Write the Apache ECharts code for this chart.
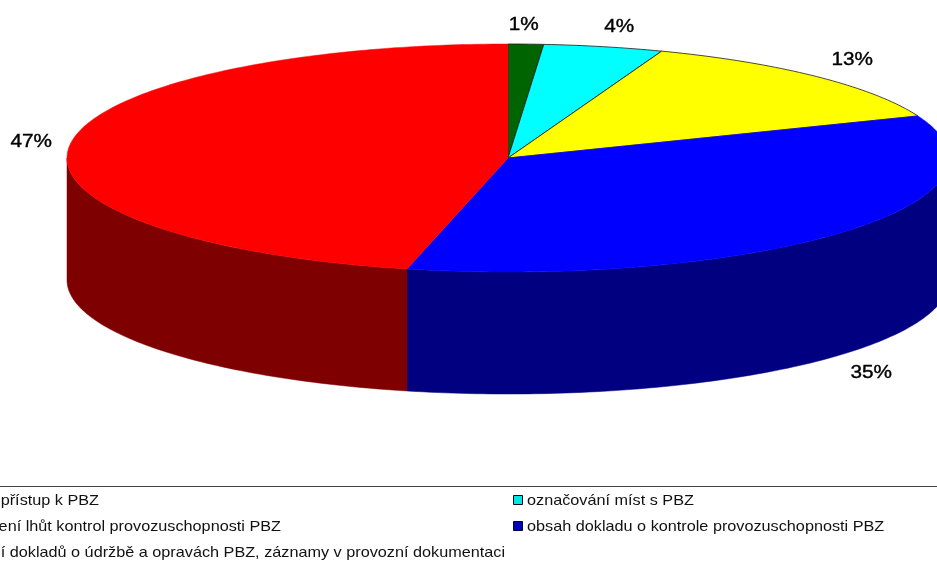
<!DOCTYPE html>
<html><head><meta charset="utf-8">
<style>html,body{margin:0;padding:0;background:#fff}#c{width:937px;height:562px}</style>
<script src="https://cdn.jsdelivr.net/npm/echarts@6/dist/echarts.min.js"></script>
</head><body><div id="c"></div>
<script>
const categories = ['přístup k PBZ','označování míst s PBZ','dodržení lhůt kontrol provozuschopnosti PBZ','obsah dokladu o kontrole provozuschopnosti PBZ','vedení dokladů o údržbě a opravách PBZ, záznamy v provozní dokumentaci'];
const shares = [1.3, 4.4, 13.4, 34.9, 46.6];
const topColors = ['#006400','#00ffff','#ffff00','#0000ff','#ff0000'];
const wallColors = ['#003200','#008080','#808000','#000080','#7f0000'];
const legendLeft = ['přístup k PBZ','ení lhůt kontrol provozuschopnosti PBZ','ní dokladů o údržbě a opravách PBZ, záznamy v provozní dokumentaci'];
const legendRight = ['označování míst s PBZ','obsah dokladu o kontrole provozuschopnosti PBZ'];
const legendRightColors = ['#00e6e0','#0000c0'];

const total = shares.reduce((a,b)=>a+b,0);
let run = 0;
const rows = shares.map((v,i)=>{const r=[v,run,i,categories[i]];run+=v;return r;});
const CX=508, CY=158, A=441, B=114, H=122;
const labelNudge=[[-4,4],[6,2],[5,0],[-4,4],[5,0]];
const pt=(deg,dy)=>{const t=deg*Math.PI/180;return [CX+A*Math.sin(t),CY-B*Math.cos(t)+(dy||0)];};
const arc=(a0,a1,dy)=>{const n=Math.max(2,Math.ceil((a1-a0)/1));const p=[];for(let k=0;k<=n;k++)p.push(pt(a0+(a1-a0)*k/n,dy));return p;};

function renderItem(params,api){
  const v=api.value(0), st=api.value(1), i=api.value(2);
  const a0=st/total*360, a1=(st+v)/total*360;
  const kids=[];
  const w0=Math.max(a0,90), w1=Math.min(a1,270);
  if(w1>w0){
    const up=arc(w0,w1,0), dn=arc(w0,w1,H).reverse();
    kids.push({type:'polygon',shape:{points:up.concat(dn)},style:{fill:wallColors[i],stroke:wallColors[i],lineWidth:0.5}});
  }
  kids.push({type:'polygon',shape:{points:[[CX,CY]].concat(arc(a0,a1,0))},
    style:{fill:topColors[i],stroke:i<3?'#1a1a1a':topColors[i],lineWidth:i<3?0.8:0.5}});
  const mid=(a0+a1)/2, t=mid*Math.PI/180;
  const lx=CX+A*1.1*Math.sin(t)+labelNudge[i][0];
  const ly=CY-B*1.2*Math.cos(t)+((mid>90&&mid<270)?H:0)+labelNudge[i][1];
  kids.push({type:'text',x:lx,y:ly,scaleX:1.12,style:{text:Math.round(v)+'%',x:0,y:0,align:'center',verticalAlign:'middle',
    font:'18.5px "Liberation Sans",Arial,sans-serif',fill:'#000',stroke:'#000',lineWidth:0.4}});
  return {type:'group',children:kids};
}
const LF='15px "Liberation Sans",Arial,sans-serif';
const leftEnds=[99,281,505];
const graphics=[{type:'rect',shape:{x:0,y:486,width:937,height:1},style:{fill:'#444'}}];
legendLeft.forEach((s,i)=>graphics.push({type:'text',x:leftEnds[i],y:501+26*i,scaleX:1.082,style:{text:s,font:LF,fill:'#111',align:'right',verticalAlign:'middle'}}));
legendRight.forEach((s,i)=>{
  graphics.push({type:'rect',shape:{x:513.5,y:495.5+26*i,width:9,height:9},style:{fill:legendRightColors[i],stroke:'#000033',lineWidth:1}});
  graphics.push({type:'text',x:527,y:501+26*i,scaleX:1.082,style:{text:s,font:LF,fill:'#111',verticalAlign:'middle'}});
});
const chart=echarts.init(document.getElementById('c'),null,{renderer:'canvas'});
chart.setOption({animation:false,backgroundColor:'#fff',
  graphic:graphics,
  series:[{type:'custom',coordinateSystem:'none',renderItem,data:rows,silent:true}]
});
</script></body></html>
